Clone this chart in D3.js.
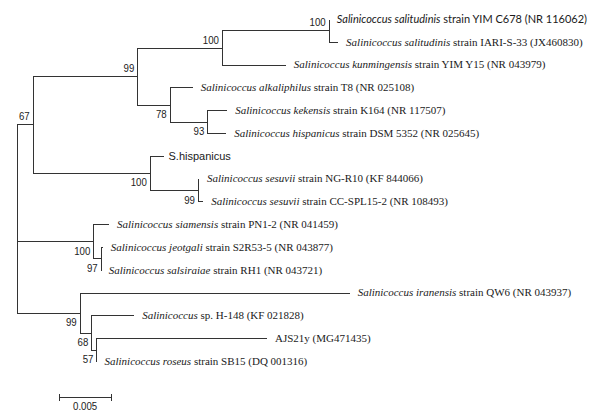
<!DOCTYPE html>
<html>
<head>
<meta charset="utf-8">
<script src="https://cdn.jsdelivr.net/npm/d3@7"></script>
<style>
  body { margin: 0; background: #fff; }
  svg { display: block; }
</style>
</head>
<body>
<div id="tree"></div>
<script>
// tree table: [id, parent, branch length (subst./site), bootstrap]
const treeRows = [
    ["root", "", 0, null],
    ["n67", "root", 0.0015, 67],
    ["n99a", "n67", 0.0100, 99],
    ["n100a", "n99a", 0.0081, 100],
    ["n100b", "n100a", 0.0102, 100],
    ["YIM C678", "n100b", 0.0000, null],
    ["IARI-S-33", "n100b", 0.0009, null],
    ["YIM Y15", "n100a", 0.0061, null],
    ["n78", "n99a", 0.0031, 78],
    ["T8", "n78", 0.0022, null],
    ["n93", "n78", 0.0036, 93],
    ["K164", "n93", 0.0019, null],
    ["DSM 5352", "n93", 0.0018, null],
    ["n100c", "n67", 0.0112, 100],
    ["S.hispanicus", "n100c", 0.0014, null],
    ["n99b", "n100c", 0.0046, 99],
    ["NG-R10", "n99b", 0.0001, null],
    ["CC-SPL 15-2", "n99b", 0.0005, null],
    ["n100d", "root", 0.0073, 100],
    ["PN1-2", "n100d", 0.0015, null],
    ["n97", "n100d", 0.0007, 97],
    ["S2R53-5", "n97", 0.0002, null],
    ["RH1", "n97", 0.0000, null],
    ["n99c", "root", 0.0060, 99],
    ["QW6", "n99c", 0.0258, null],
    ["n68", "n99c", 0.0011, 68],
    ["H-148", "n68", 0.0041, null],
    ["n57", "n68", 0.0005, 57],
    ["AJS21y", "n57", 0.0163, null],
    ["SB15", "n57", 0.0000, null]
];

// leaf labels: [id, italic part, plain part]
const leafLabels = [
    ["YIM C678", "Salinicoccus salitudinis", " strain YIM C678 (NR 116062)"],
    ["IARI-S-33", "Salinicoccus salitudinis", " strain IARI-S-33 (JX460830)"],
    ["YIM Y15", "Salinicoccus kunmingensis", " strain YIM Y15 (NR 043979)"],
    ["T8", "Salinicoccus alkaliphilus", " strain T8 (NR 025108)"],
    ["K164", "Salinicoccus kekensis", " strain K164 (NR 117507)"],
    ["DSM 5352", "Salinicoccus hispanicus", " strain DSM 5352  (NR 025645)"],
    ["S.hispanicus", "", "S.hispanicus"],
    ["NG-R10", "Salinicoccus sesuvii", " strain NG-R10 (KF 844066)"],
    ["CC-SPL 15-2", "Salinicoccus sesuvii", " strain CC-SPL15-2 (NR 108493)"],
    ["PN1-2", "Salinicoccus siamensis", " strain PN1-2 (NR 041459)"],
    ["S2R53-5", "Salinicoccus jeotgali", " strain S2R53-5 (NR 043877)"],
    ["RH1", "Salinicoccus salsiraiae", " strain RH1 (NR 043721)"],
    ["QW6", "Salinicoccus iranensis", " strain QW6 (NR 043937)"],
    ["H-148", "Salinicoccus", " sp. H-148 (KF 021828)"],
    ["AJS21y", "", "AJS21y (MG471435)"],
    ["SB15", "Salinicoccus roseus", " strain SB15 (DQ 001316)"]
];

const scaleBarValue = 0.005;
const scaleBarLabel = "0.005";

var width = 595
var height = 411;

let svg = d3.select("#tree")
    .append("svg")
    .attr("width", width)
    .attr("height", height)
    .attr("viewBox", "0 0 " + width + " " + height)

svg.append("rect").attr("width", width).attr("height", height).attr("fill", "#fff")

const root = d3.stratify()
    .id(d => d[0])
    .parentId(d => d[1] || null)(treeRows);

// cumulative distance from root
root.eachBefore(n => n.dist = n.parent ? n.parent.dist + n.data[2] : 0)

const x = d3.scaleLinear()
    .domain([0, scaleBarValue])
    .range([17, 17 + 52.3])

const leaves = root.leaves()
const yLeaf = d3.scaleLinear()
    .domain([0, leaves.length - 1])
    .range([19, 361])

leaves.forEach((l, i) => l.py = yLeaf(i))
root.eachAfter(n => {
    if (n.children) n.py = (n.children[0].py + n.children[n.children.length - 1].py) / 2
})

const lineColor = "#333"
const g = svg.append("g").attr("shape-rendering", "crispEdges")

// horizontal branches
g.selectAll("line.h")
    .data(root.descendants().filter(n => n.parent))
    .join("line")
    .attr("class", "h")
    .attr("x1", d => x(d.parent.dist))
    .attr("x2", d => x(d.dist))
    .attr("y1", d => Math.round(d.py) + 0.5)
    .attr("y2", d => Math.round(d.py) + 0.5)
    .attr("stroke", lineColor)
    .attr("stroke-width", 1)

// vertical connectors
g.selectAll("line.v")
    .data(root.descendants().filter(n => n.children))
    .join("line")
    .attr("class", "v")
    .attr("x1", d => Math.round(x(d.dist)) + 0.5)
    .attr("x2", d => Math.round(x(d.dist)) + 0.5)
    .attr("y1", d => Math.round(d.children[0].py) + 0.5)
    .attr("y2", d => Math.round(d.children[d.children.length - 1].py) + 0.5)
    .attr("stroke", lineColor)
    .attr("stroke-width", 1)

// bootstrap values: above the branch for the first child, below otherwise
const narrow = "'Liberation Sans Narrow', 'Arial Narrow', 'Liberation Sans', Arial, sans-serif"
svg.selectAll("text.boot")
    .data(root.descendants().filter(n => n.data[3] != null))
    .join("text")
    .attr("class", "boot")
    .attr("transform", d => "translate(" + (x(d.dist) - 3) + "," +
        (d.parent.children[0] === d ? d.py - 4 : d.py + 13.5) + ") scale(0.88,1)")
    .attr("text-anchor", "end")
    .style("font-family", narrow)
    .style("font-size", "11px")
    .attr("fill", "#222")
    .text(d => d.data[3])

// leaf labels
const labelById = new Map(leafLabels.map(d => [d[0], d]))
const labelFont = id => {
    if (id === "YIM C678") return "Lato, 'Open Sans', sans-serif"
    if (id === "S.hispanicus") return "'Liberation Sans', Arial, sans-serif"
    return "'Liberation Serif', 'Times New Roman', serif"
}
const labels = svg.selectAll("text.leaf")
    .data(leaves)
    .join("text")
    .attr("class", "leaf")
    .attr("x", d => x(d.dist) + (d.id === "S.hispanicus" ? 4 : 8))
    .attr("y", d => d.py)
    .attr("dy", "0.35em")
    .style("font-family", d => labelFont(d.id))
    .style("font-size", "11px")
    .attr("fill", "#1a1a1a")

labels.each(function (d) {
    const lab = labelById.get(d.id)
    const t = d3.select(this)
    if (lab[1]) t.append("tspan").style("font-style", "italic").text(lab[1])
    t.append("tspan").text(lab[2])
})

// scale bar
const barX = 59, barY = 397
const barLen = x(scaleBarValue) - x(0)
const sb = svg.append("g").attr("shape-rendering", "crispEdges")
sb.append("line")
    .attr("x1", barX).attr("x2", barX + barLen)
    .attr("y1", barY + 0.5).attr("y2", barY + 0.5)
    .attr("stroke", lineColor)
sb.selectAll("line.tick")
    .data([0, barLen])
    .join("line")
    .attr("class", "tick")
    .attr("x1", d => Math.round(barX + d) + 0.5).attr("x2", d => Math.round(barX + d) + 0.5)
    .attr("y1", barY - 3).attr("y2", barY + 4)
    .attr("stroke", lineColor)
svg.append("text")
    .attr("transform", "translate(" + (barX + barLen / 2) + "," + (barY + 13) + ") scale(0.88,1)")
    .attr("text-anchor", "middle")
    .style("font-family", narrow)
    .style("font-size", "11px")
    .attr("fill", "#222")
    .text(scaleBarLabel)
</script>
</body>
</html>
